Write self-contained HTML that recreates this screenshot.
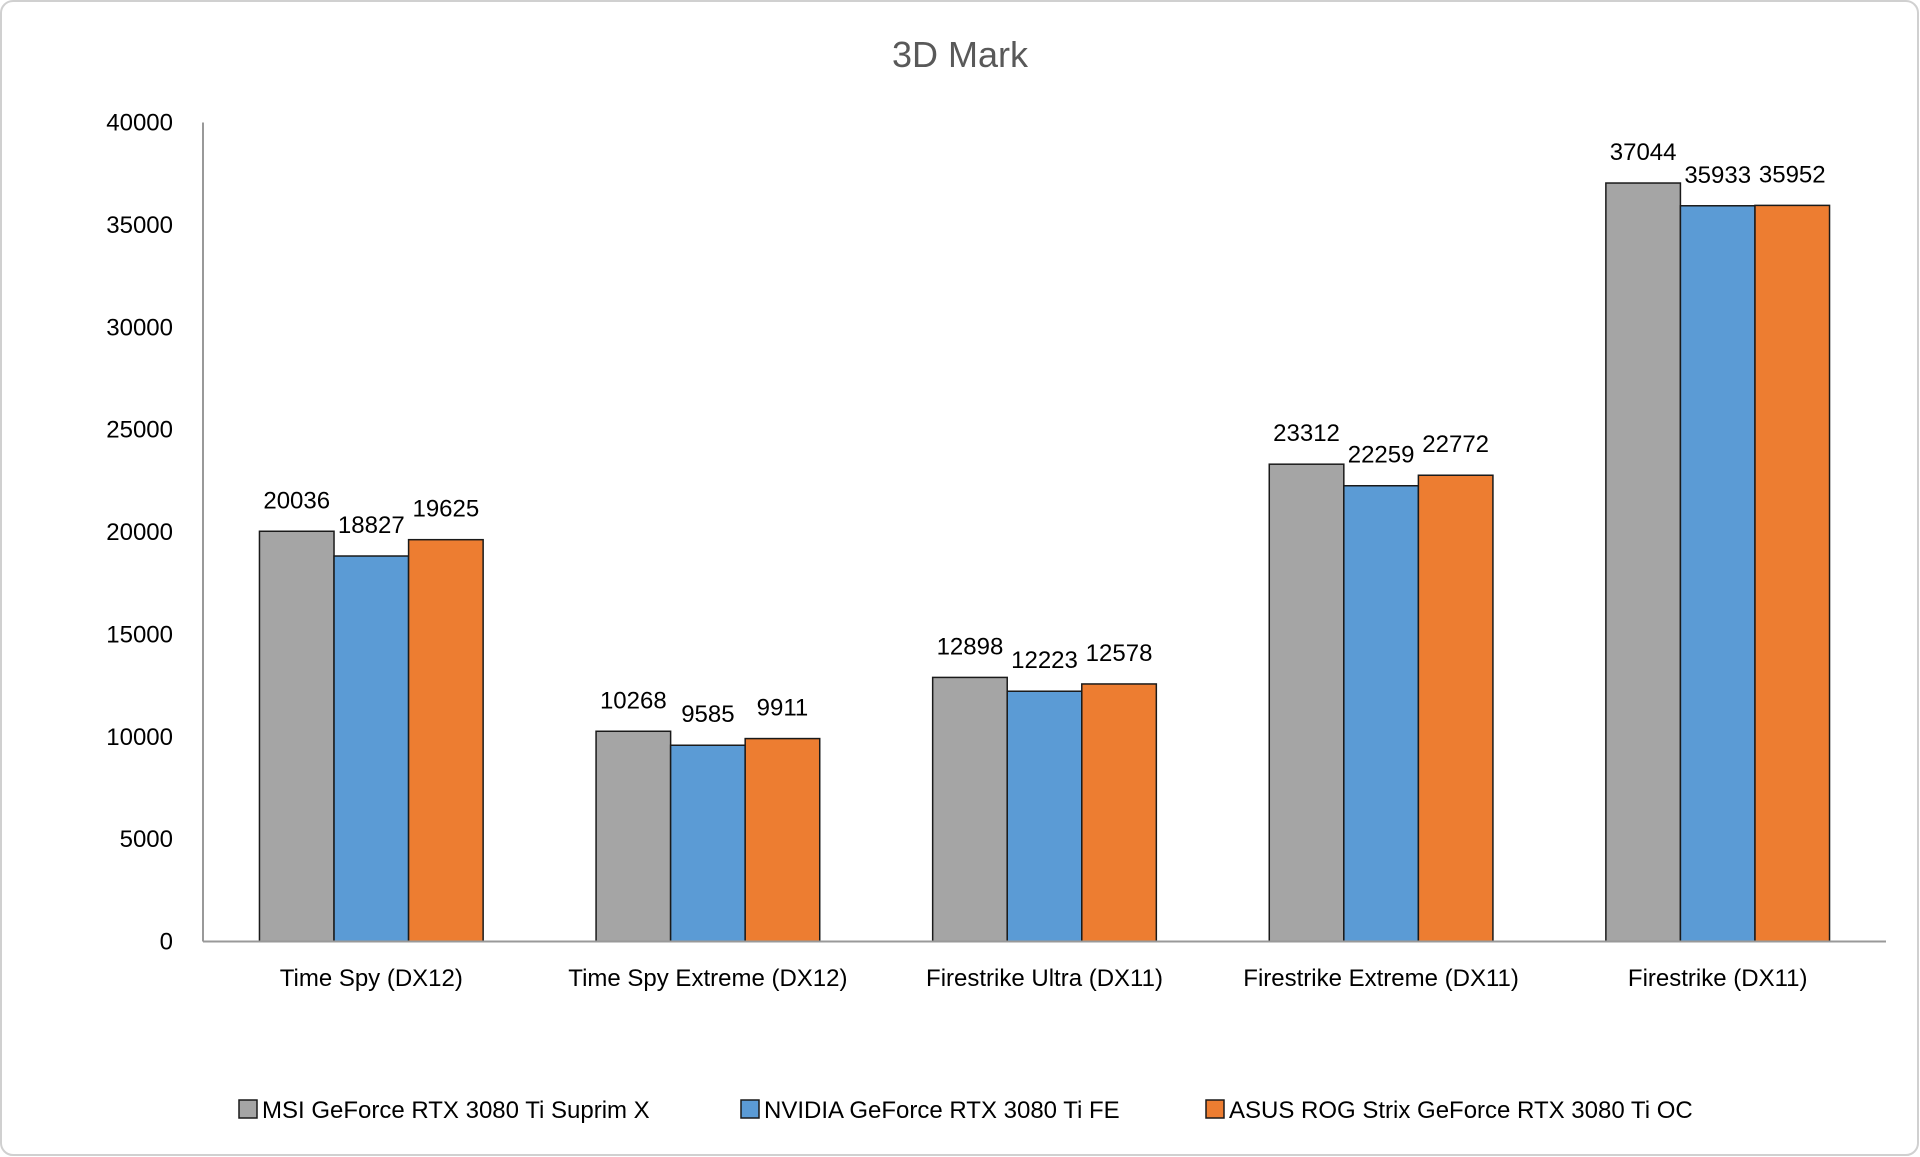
<!DOCTYPE html>
<html><head><meta charset="utf-8"><style>
body{margin:0;background:#fff;}
svg{display:block;font-family:"Liberation Sans",sans-serif;}
</style></head><body>
<svg id="c" width="1920" height="1157">
<rect x="1" y="1" width="1917" height="1154" rx="12" fill="#fff" stroke="#d0d0d0" stroke-width="2"/>
<text x="960" y="67" text-anchor="middle" font-size="36" fill="#595959">3D Mark</text>
<g id="plot"></g>
</svg>
<script>
const categories=["Time Spy (DX12)","Time Spy Extreme (DX12)","Firestrike Ultra (DX11)","Firestrike Extreme (DX11)","Firestrike (DX11)"];
const seriesNames=["MSI GeForce RTX 3080 Ti Suprim X","NVIDIA GeForce RTX 3080 Ti FE","ASUS ROG Strix GeForce RTX 3080 Ti OC"];
const msi=[20036,10268,12898,23312,37044];
const nvidia=[18827,9585,12223,22259,35933];
const asus=[19625,9911,12578,22772,35952];
const yTicks=[0,5000,10000,15000,20000,25000,30000,35000,40000];
const colors=["#a5a5a5","#5b9bd5","#ed7d31"];
const NS="http://www.w3.org/2000/svg";
const g=document.getElementById('plot');
const x0=203,x1=1886,y0=941.5,yTop=122.5,yMax=40000;
const Y=v=>y0-(v/yMax)*(y0-yTop);
const gw=(x1-x0)/categories.length;
const bw=gw*0.2215, gap=(gw-3*bw)/2;
function el(t,a,txt){const e=document.createElementNS(NS,t);for(const k in a)e.setAttribute(k,a[k]);if(txt!==undefined)e.textContent=txt;g.appendChild(e);return e;}
yTicks.forEach(t=>{
 const e=el('text',{x:173,y:Y(t)+8,'text-anchor':'end','font-size':24,fill:'#000'},String(t));
 
 
});
const series=[msi,nvidia,asus];
categories.forEach((c,i)=>{
 const gx=x0+gw*i;
 series.forEach((s,j)=>{
  const bx=gx+gap+bw*j;
  const r=el('rect',{x:bx,y:Y(s[i]),width:bw,height:y0-Y(s[i]),fill:colors[j],stroke:'#1a1a1a','stroke-width':1.5});
  
  
  const l=el('text',{x:bx+bw/2,y:Y(s[i])-23,'text-anchor':'middle','font-size':24,fill:'#000'},String(s[i]));
  
  
 });
 const cl=el('text',{x:gx+gw/2,y:986,'text-anchor':'middle','font-size':24,fill:'#000'},c);
 
 
});
const ax=el('line',{x1:x0,y1:yTop,x2:x0,y2:y0,stroke:'#999','stroke-width':2});


const bx=el('line',{x1:x0,y1:y0,x2:x1,y2:y0,stroke:'#999','stroke-width':2});


const lx=[239,741,1206];
seriesNames.forEach((n,j)=>{
 const sq=el('rect',{x:lx[j],y:1100,width:18,height:18,fill:colors[j],stroke:'#1a1a1a','stroke-width':1.5});
 
 
 const t=el('text',{x:lx[j]+23,y:1118,'font-size':24,fill:'#000'},n);
 
 
});
</script>
</body></html>
